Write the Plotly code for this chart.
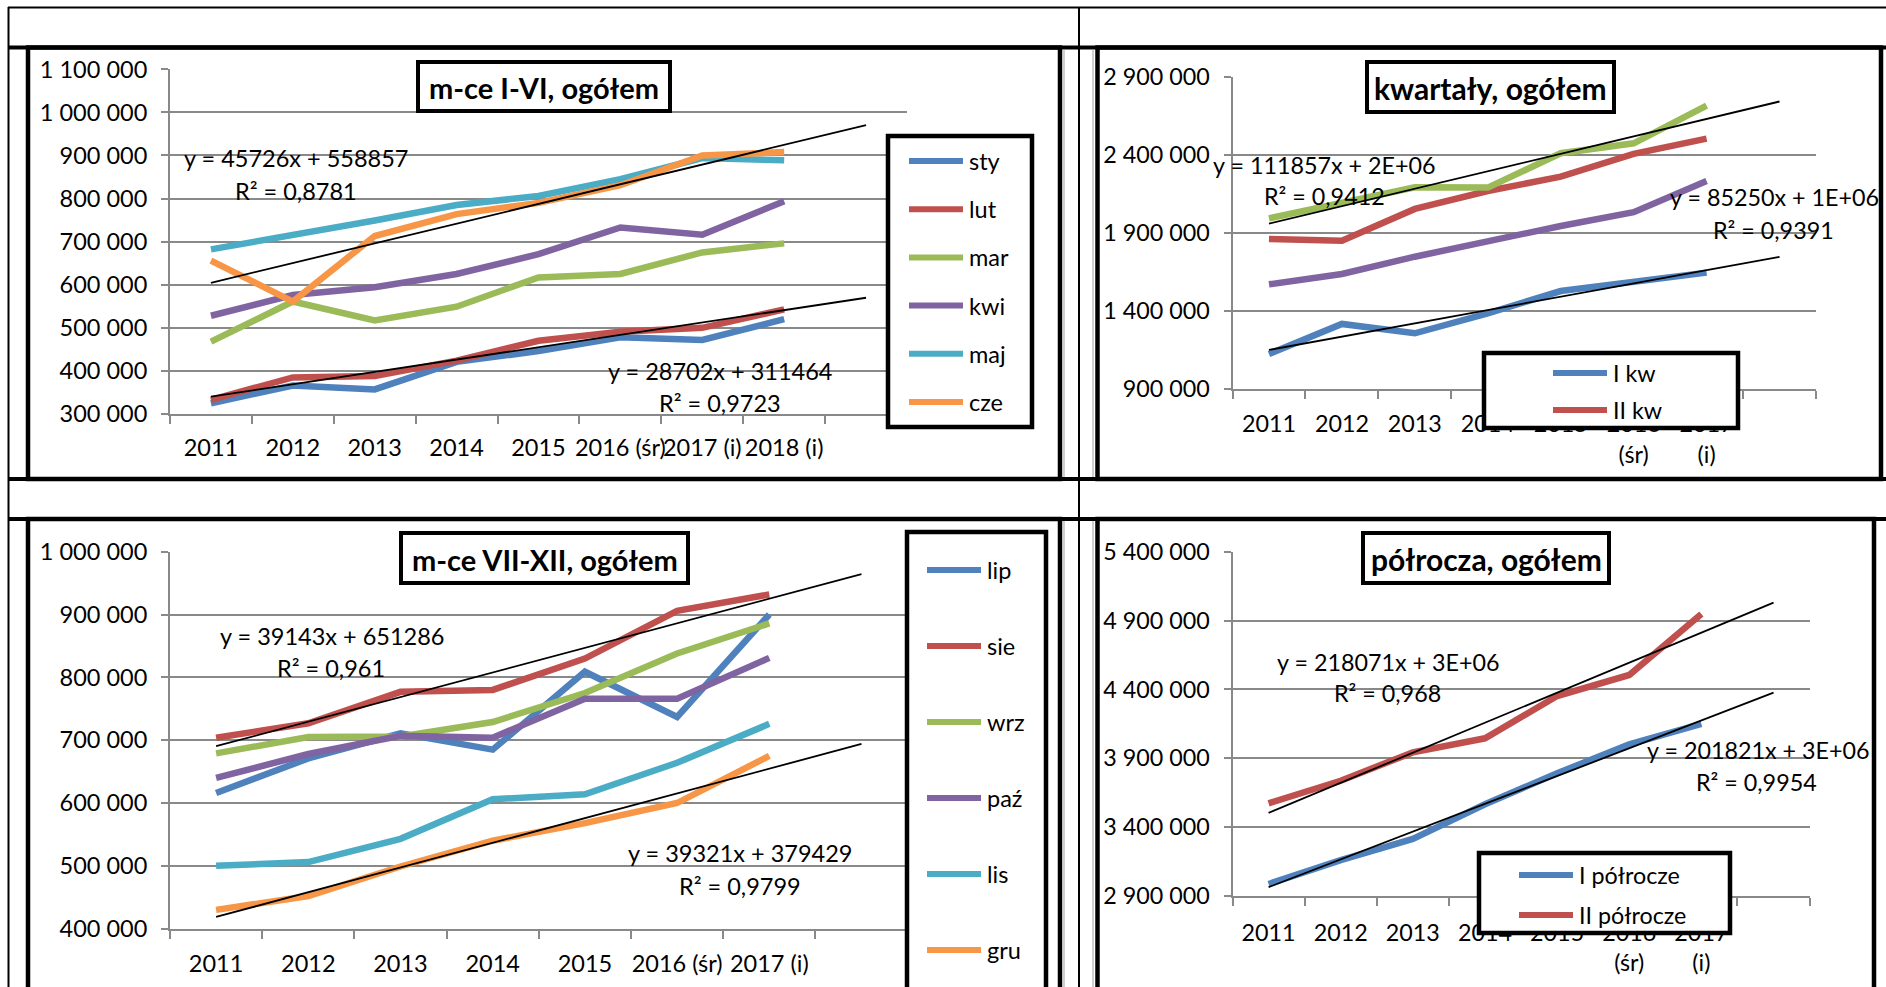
import plotly.graph_objects as go

W, H = 1886, 987

# ---------------- dane ----------------
lata_I_VI = ["2011", "2012", "2013", "2014", "2015", "2016 (śr)", "2017 (i)", "2018 (i)"]
sty = [325000, 366000, 357000, 421000, 446000, 478000, 472000, 520000]
lut = [333000, 385000, 388000, 424000, 470000, 491000, 500000, 543000]
mar = [468000, 561000, 517000, 549000, 617000, 625000, 675000, 696000]
kwi = [528000, 576000, 594000, 625000, 671000, 733000, 716000, 794000]
maj = [682000, 715000, 749000, 785000, 806000, 845000, 894000, 889000]
cze = [656000, 561000, 713000, 764000, 790000, 831000, 900000, 908000]

lata_kw = ["2011", "2012", "2013", "2014", "2015", "2016<br>(śr)", "2017<br>(i)"]
I_kw = [1127000, 1319000, 1259000, 1387000, 1530000, 1590000, 1648000]
II_kw = [1864000, 1853000, 2056000, 2171000, 2263000, 2409000, 2507000]
III_kw = [1996000, 2092000, 2195000, 2193000, 2413000, 2477000, 2718000]
IV_kw = [1573000, 1639000, 1750000, 1853000, 1947000, 2035000, 2235000]

lata_VII_XII = ["2011", "2012", "2013", "2014", "2015", "2016 (śr)", "2017 (i)"]
lip = [616000, 671000, 711000, 685000, 809000, 737000, 900000]
sie = [704000, 727000, 777000, 780000, 830000, 906000, 932000]
wrz = [679000, 705000, 706000, 729000, 775000, 838000, 886000]
paz = [640000, 678000, 707000, 704000, 766000, 766000, 831000]
lis = [500000, 506000, 543000, 606000, 614000, 664000, 726000]
gru = [430000, 452000, 499000, 540000, 568000, 600000, 675000]

lata_pol = ["2011", "2012", "2013", "2014", "2015", "2016<br>(śr)", "2017<br>(i)"]
I_pol = [2987000, 3161000, 3314000, 3566000, 3791000, 4001000, 4149000]
II_pol = [3573000, 3737000, 3943000, 4045000, 4352000, 4505000, 4947000]

# trendy liniowe (wspolczynnik, wyraz wolny) i ich opisy
trend_I_VI = [(45726, 558857), (28702, 311464)]
opis_I_VI = [("y = 45726x + 558857", "R² = 0,8781"), ("y = 28702x + 311464", "R² = 0,9723")]
trend_kw = [(111857, 1850000), (85250, 1067000)]
opis_kw = [("y = 111857x + 2E+06", "R² = 0,9412"), ("y = 85250x + 1E+06", "R² = 0,9391")]
trend_VII_XII = [(39143, 651286), (39321, 379429)]
opis_VII_XII = [("y = 39143x + 651286", "R² = 0,961"), ("y = 39321x + 379429", "R² = 0,9799")]
trend_pol = [(218071, 3286000), (201821, 2762000)]
opis_pol = [("y = 218071x + 3E+06", "R² = 0,968"), ("y = 201821x + 3E+06", "R² = 0,9954")]

# kolory Excela
NIEB, CZER, ZIEL, FIOL, TURK, POM = "#4F81BD", "#C0504D", "#9BBB59", "#8064A2", "#4BACC6", "#F79646"
SZARY = "#898989"
FONT = "Lato"

fig = go.Figure()
shapes = []
annots = []


def fx(x):
    return x / W


def fy(y):
    return 1 - y / H


def linia(x0, y0, x1, y1, kolor="black", w=2):
    shapes.append(dict(type="line", xref="paper", yref="paper", x0=fx(x0), y0=fy(y0),
                       x1=fx(x1), y1=fy(y1), line=dict(color=kolor, width=w), layer="above"))


def prost(x0, y0, x1, y1, w=4, fill="white"):
    shapes.append(dict(type="rect", xref="paper", yref="paper", x0=fx(x0), y0=fy(y0),
                       x1=fx(x1), y1=fy(y1), line=dict(color="black", width=w),
                       fillcolor=fill, layer="above"))


def tekst(x, y, t, size, anchor="left", bold=False):
    annots.append(dict(xref="paper", yref="paper", x=fx(x), y=fy(y), text=t, showarrow=False,
                       xanchor=anchor, yanchor="middle",
                       font=dict(family=FONT, size=size, color="black",
                                 weight="bold" if bold else "normal")))


def wykres(nr, kategorie, serie, trendy, opisy, obszar, y_zakres, krok, fs,
           tytul, tytul_box, tytul_fs, leg_box, leg_x, leg_y, leg_krok, leg_liczba,
           opis_pos, stand_x, stand_y):
    xa = "x" if nr == 1 else "x%d" % nr
    ya = "y" if nr == 1 else "y%d" % nr
    n = len(kategorie) + 1
    for nazwa, wart, kolor in serie:
        fig.add_trace(go.Scatter(x=list(range(1, len(wart) + 1)), y=wart, mode="lines",
                                 name=nazwa, line=dict(color=kolor, width=6.5),
                                 xaxis=xa, yaxis=ya, showlegend=False))
    for a, b in trendy:
        fig.add_trace(go.Scatter(x=[1, n], y=[a * 1 + b, a * n + b], mode="lines",
                                 line=dict(color="black", width=1.8),
                                 xaxis=xa, yaxis=ya, showlegend=False))
    x0, y0, x1, y1 = obszar
    osx = dict(domain=[fx(x0), fx(x1)], range=[0.5, n + 0.5], anchor=ya,
               showgrid=False, zeroline=False, showline=True, linecolor=SZARY, linewidth=2,
               tickmode="array", tickvals=list(range(1, len(kategorie) + 1)), ticktext=kategorie,
               ticks="", tickangle=0, ticklabelstandoff=stand_x,
               tickfont=dict(family=FONT, size=fs, color="black"),
               minor=dict(tickmode="array", tickvals=[i + 0.5 for i in range(n + 1)],
                          ticks="outside", ticklen=8, tickwidth=2, tickcolor=SZARY,
                          showgrid=False))
    osy = dict(domain=[fy(y1), fy(y0)], range=y_zakres, anchor=xa,
               tick0=y_zakres[0], dtick=krok, tickformat=",d",
               showgrid=True, gridcolor=SZARY, gridwidth=2, zeroline=False,
               showline=True, linecolor=SZARY, linewidth=2,
               ticks="outside", ticklen=7, tickwidth=2, tickcolor=SZARY,
               ticklabelstandoff=stand_y,
               tickfont=dict(family=FONT, size=fs, color="black"))
    fig.update_layout({("xaxis" if nr == 1 else "xaxis%d" % nr): osx,
                       ("yaxis" if nr == 1 else "yaxis%d" % nr): osy})

    # tytul
    prost(*tytul_box, w=4)
    tekst((tytul_box[0] + tytul_box[2]) / 2, (tytul_box[1] + tytul_box[3]) / 2 + 1,
          tytul, tytul_fs, anchor="center", bold=True)
    # opisy trendow
    for (rown, r2), (px, py, rx, ry) in zip(opisy, opis_pos):
        tekst(px, py, rown, fs)
        tekst(rx, ry, r2, fs)
    # legenda
    prost(*leg_box, w=4.5)
    for i, (nazwa, wart, kolor) in enumerate(serie[:leg_liczba]):
        yy = leg_y + i * leg_krok
        linia(leg_x, yy, leg_x + 54, yy, kolor=kolor, w=6)
        tekst(leg_x + 58, yy, nazwa, fs)


wykres(1, lata_I_VI,
       [("sty", sty, NIEB), ("lut", lut, CZER), ("mar", mar, ZIEL),
        ("kwi", kwi, FIOL), ("maj", maj, TURK), ("cze", cze, POM)],
       trend_I_VI, opis_I_VI,
       (170, 69.3, 907, 414), [300000, 1100000], 100000, 23.5,
       "m-ce I-VI, ogółem", (418, 62, 670, 111), 29,
       (888, 136, 1032, 427), 909, 161, 48.2, 6,
       [(182, 158, 233, 191), (606, 371, 657, 403)], 12, 9)

wykres(2, lata_kw,
       [("I kw", I_kw, NIEB), ("II kw", II_kw, CZER), ("III kw", III_kw, ZIEL),
        ("IV kw", IV_kw, FIOL)],
       trend_kw, opis_kw,
       (1232.5, 77.3, 1816, 389.3), [900000, 2900000], 500000, 23.3,
       "kwartały, ogółem", (1367, 62, 1614, 112), 30,
       (1484, 353, 1738, 428), 1553, 373, 37, 2,
       [(1211, 165, 1262, 196), (1668, 197, 1711, 230)], 13, 9)

wykres(3, lata_VII_XII,
       [("lip", lip, NIEB), ("sie", sie, CZER), ("wrz", wrz, ZIEL),
        ("paź", paz, FIOL), ("lis", lis, TURK), ("gru", gru, POM)],
       trend_VII_XII, opis_VII_XII,
       (170, 551.7, 907.6, 928.7), [400000, 1000000], 100000, 23.5,
       "m-ce VII-XII, ogółem", (401, 533, 688, 583), 29,
       (907, 532, 1046, 1010), 927, 570, 76, 6,
       [(218, 636, 275, 668), (626, 853, 677, 886)], 13, 9)

wykres(4, lata_pol,
       [("I półrocze", I_pol, NIEB), ("II półrocze", II_pol, CZER)],
       trend_pol, opis_pol,
       (1232.5, 551.7, 1809.6, 896), [2900000, 5400000], 500000, 23.3,
       "półrocza, ogółem", (1363, 533, 1609, 583), 30,
       (1479, 853, 1730, 933), 1519, 875, 40, 2,
       [(1275, 662, 1332, 693), (1645, 750, 1694, 782)], 15, 9)

# ---------------- tabela i ramki wykresow ----------------
for xr0, xr1 in [(28, 1060), (1097.5, 1881)]:
    shapes.append(dict(type="rect", xref="paper", yref="paper", x0=fx(xr0), y0=fy(47.5),
                       x1=fx(xr1), y1=fy(479), line=dict(color="black", width=4.5), layer="above"))
for xr0, xr1 in [(28, 1060), (1097.5, 1874)]:
    shapes.append(dict(type="rect", xref="paper", yref="paper", x0=fx(xr0), y0=fy(519),
                       x1=fx(xr1), y1=fy(1005), line=dict(color="black", width=4.5), layer="above"))
linia(8, 7.5, W, 7.5, w=2)
linia(8.5, 7, 8.5, H, w=2)
linia(1079, 7, 1079, H, w=2)
linia(8, 47.5, W, 47.5, w=4)
linia(8, 479, W, 479, w=4)
linia(8, 519, W, 519, w=4)
for xx in (1064, 1093):
    linia(xx, 49, xx, 477, kolor="#a0a0a0", w=1)
    linia(xx, 521, xx, H, kolor="#a0a0a0", w=1)

fig.update_layout(width=W, height=H,
                  margin=dict(l=0, r=0, t=0, b=0, pad=0, autoexpand=False),
                  paper_bgcolor="white", plot_bgcolor="white",
                  separators=", ", font=dict(family=FONT, color="black"),
                  shapes=shapes, annotations=annots, showlegend=False)

fig.write_html("out.html", config={"displayModeBar": False},
               post_script="document.body.style.margin='0';")
